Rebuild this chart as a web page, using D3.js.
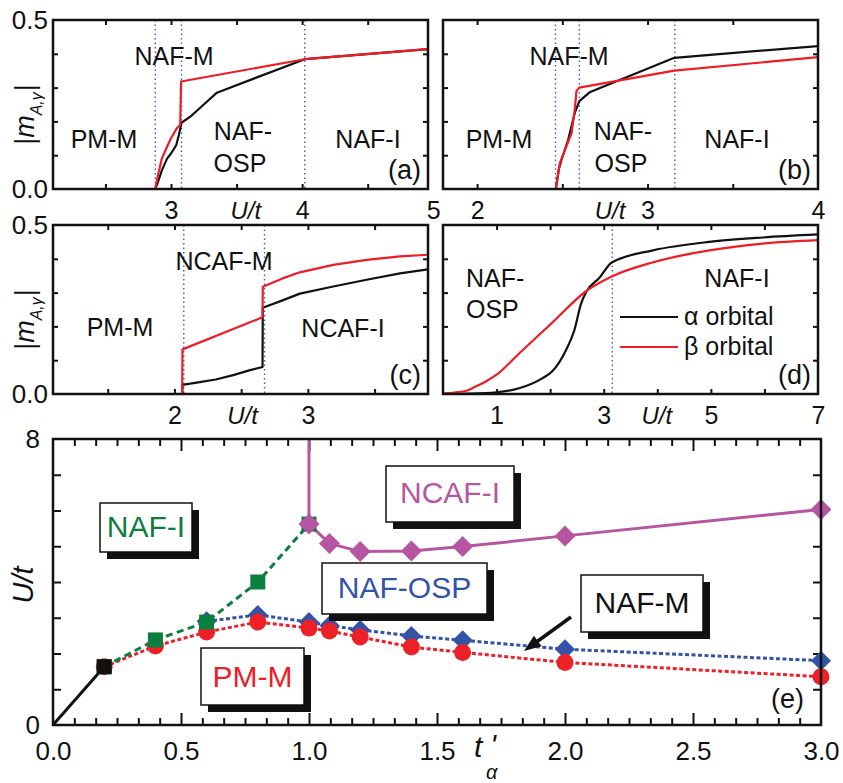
<!DOCTYPE html>
<html><head><meta charset="utf-8">
<script src="https://cdn.jsdelivr.net/npm/d3@7"></script>
<style>body{margin:0;background:#fff;} svg{display:block;}</style>
</head><body>
<svg id="chart" width="843" height="783"></svg>
<script>
// ---------------- DATA ----------------
// Panel (a): |m| vs U/t
const panelA_alpha = [[2.1,0],[2.88,0],[2.9,0.02],[2.93,0.055],[2.97,0.09],[3.0,0.105],[3.04,0.13],[3.06,0.16],[3.08,0.196],[3.15,0.215],[3.25,0.25],[3.35,0.285],[4.02,0.384],[4.96,0.414]];
const panelA_beta  = [[2.1,0],[2.88,0],[2.9,0.04],[2.93,0.09],[2.97,0.125],[3.0,0.15],[3.045,0.18],[3.07,0.19],[3.077,0.318],[4.02,0.384],[4.96,0.414]];
const panelA_bounds = [2.88, 3.08, 4.02];
// Panel (b)
const panelB_alpha = [[1.8,0],[2.462,0],[2.48,0.06],[2.495,0.086],[2.534,0.145],[2.573,0.225],[2.6,0.26],[2.66,0.286],[3.157,0.388],[4.0,0.423]];
const panelB_beta  = [[1.8,0],[2.462,0],[2.47,0.027],[2.485,0.076],[2.524,0.126],[2.554,0.165],[2.573,0.235],[2.583,0.29],[2.6,0.3],[3.157,0.35],[4.0,0.39]];
const panelB_bounds = [2.46, 2.6, 3.16];
// Panel (c)
const panelC_alpha = [[1.09,0],[2.058,0],[2.06,0.027],[2.19,0.035],[2.31,0.043],[2.44,0.056],[2.56,0.07],[2.66,0.08],[2.662,0.255],[2.81,0.277],[2.94,0.297],[3.19,0.318],[3.44,0.338],[3.69,0.357],[3.9,0.369]];
const panelC_beta  = [[1.09,0],[2.058,0],[2.06,0.132],[2.66,0.227],[2.662,0.317],[2.81,0.342],[2.94,0.36],[3.19,0.382],[3.44,0.397],[3.69,0.407],[3.9,0.412]];
const panelC_bounds = [2.07, 2.675];
// Panel (d)
const panelD_alpha = [[0,0],[0.5,0.001],[1.0,0.005],[1.42,0.017],[1.86,0.047],[2.04,0.067],[2.29,0.128],[2.45,0.188],[2.58,0.269],[2.67,0.301],[2.92,0.344],[3.15,0.389],[3.92,0.425],[4.97,0.45],[5.97,0.463],[7,0.472]];
const panelD_beta  = [[0,0.002],[0.42,0.009],[0.61,0.022],[0.8,0.037],[1.0,0.057],[1.42,0.12],[2.04,0.211],[2.67,0.304],[3.17,0.349],[3.91,0.389],[4.97,0.425],[5.97,0.445],[7,0.455]];
const panelD_bounds = [3.16];

// Panel (e): phase diagram U/t vs t_alpha'
const eBlackT = [0, 0.2];
const eBlackU = [0, 1.63];
const eGreenT = [0.2, 0.4, 0.6, 0.8, 1.0];
const eGreenU = [1.63, 2.38, 2.88, 4.0, 5.62];
const eRedT = [0.2, 0.4, 0.6, 0.8, 1.0, 1.08, 1.2, 1.4, 1.6, 2.0, 3.0];
const eRedU = [1.63, 2.21, 2.6, 2.88, 2.71, 2.63, 2.46, 2.18, 2.03, 1.75, 1.35];
const eBlueT = [0.6, 0.8, 1.0, 1.08, 1.2, 1.4, 1.6, 2.0, 3.0];
const eBlueU = [2.9, 3.08, 2.88, 2.78, 2.66, 2.49, 2.37, 2.12, 1.8];
const eMagT = [1.0, 1.08, 1.2, 1.4, 1.6, 2.0, 3.0];
const eMagU = [5.62, 5.08, 4.85, 4.87, 4.99, 5.29, 6.03];

// ---------------- DRAWING ----------------
const FONT = "'Liberation Sans', Arial, Helvetica, sans-serif";
const RED = "#ee1d25", BLK = "#111111", DOT = "#3a5bc8";
const GREEN = "#0b7f3f", BLUE = "#3353a6", MAG = "#b656a2", RED2 = "#ec2027";
const svg = d3.select("#chart").attr("font-family", FONT);
svg.append("rect").attr("width", 843).attr("height", 783).attr("fill", "#fff");

function styleAxis(g, fs) {
  g.attr("font-family", FONT).attr("font-size", fs);
  g.select(".domain").remove();
  g.selectAll(".tick line").attr("stroke", BLK).attr("stroke-width", 2);
  g.selectAll(".tick text").attr("fill", BLK);
}

const panels = [
  {id:"a", x0:53, x1:428, y0:20, y1:189, xd:[2.1,4.96], alpha:panelA_alpha, beta:panelA_beta, bounds:panelA_bounds,
   xticks:[2.5,3,3.5,4,4.5], xlabels:[3,4,5], ulab:3.57, ylabels:true,
   texts:[["PM-M",104,148,"middle"],["NAF-M",174,65,"middle"],["NAF-",243,140,"middle"],["OSP",240,172,"middle"],["NAF-I",368,148,"middle"]], plab:["(a)",421,179]},
  {id:"b", x0:443, x1:818, y0:20, y1:189, xd:[1.8,4.0], alpha:panelB_alpha, beta:panelB_beta, bounds:panelB_bounds,
   xticks:[2,2.5,3,3.5], xlabels:[2,3,4], ulab:2.78, ylabels:false,
   texts:[["PM-M",499,148,"middle"],["NAF-M",569,65,"middle"],["NAF-",623,140,"middle"],["OSP",621,172,"middle"],["NAF-I",737,148,"middle"]], plab:["(b)",811,179]},
  {id:"c", x0:53, x1:428, y0:225, y1:394, xd:[1.09,3.9], alpha:panelC_alpha, beta:panelC_beta, bounds:panelC_bounds,
   xticks:[1.5,2,2.5,3,3.5], xlabels:[2,3], ulab:2.51, ylabels:true,
   texts:[["PM-M",120,336,"middle"],["NCAF-M",224,270,"middle"],["NCAF-I",343,337,"middle"]], plab:["(c)",421,384]},
  {id:"d", x0:443, x1:818, y0:225, y1:394, xd:[0,7], alpha:panelD_alpha, beta:panelD_beta, bounds:panelD_bounds,
   xticks:[1,2,3,4,5,6], xlabels:[1,3,5,7], ulab:3.99, ylabels:false,
   texts:[["NAF-",466,287,"start"],["OSP",466,318,"start"],["NAF-I",737,287,"middle"]], plab:["(d)",811,384]}
];

panels.forEach(p => {
  const g = svg.append("g");
  const x = d3.scaleLinear().domain(p.xd).range([p.x0, p.x1]);
  const y = d3.scaleLinear().domain([0, 0.5]).range([p.y1, p.y0]);
  const clipId = "clip" + p.id;
  g.append("clipPath").attr("id", clipId).append("rect")
    .attr("x", p.x0).attr("y", p.y0 - 2).attr("width", p.x1 - p.x0).attr("height", p.y1 - p.y0 + 2);
  // boundaries
  p.bounds.forEach(b => {
    g.append("line").attr("x1", x(b)).attr("x2", x(b)).attr("y1", p.y0).attr("y2", p.y1)
      .attr("stroke", DOT).attr("stroke-width", 1.4).attr("stroke-dasharray", "1.5,3");
  });
  const line = d3.line().x(d => x(d[0])).y(d => y(d[1]))
    .curve(p.id === "d" ? d3.curveMonotoneX : d3.curveLinear);
  const cg = g.append("g").attr("clip-path", `url(#${clipId})`);
  cg.append("path").datum(p.alpha).attr("d", line).attr("fill", "none").attr("stroke", BLK).attr("stroke-width", 2.2).attr("stroke-linejoin", "round");
  cg.append("path").datum(p.beta).attr("d", line).attr("fill", "none").attr("stroke", RED).attr("stroke-width", 2.2).attr("stroke-linejoin", "round");

  // ticks (inward on all sides)
  const yt = d3.range(0.1, 0.45, 0.1);
  g.append("g").attr("transform", `translate(0,${p.y1})`)
    .call(d3.axisBottom(x).tickValues(p.xticks).tickSize(-5).tickFormat(""))
    .call(s => styleAxis(s, 25));
  g.append("g").attr("transform", `translate(0,${p.y0})`)
    .call(d3.axisTop(x).tickValues(p.xticks).tickSize(-5).tickFormat(""))
    .call(s => styleAxis(s, 25));
  g.append("g").attr("transform", `translate(${p.x0},0)`)
    .call(d3.axisLeft(y).tickValues(yt).tickSize(-5).tickFormat(""))
    .call(s => styleAxis(s, 25));
  g.append("g").attr("transform", `translate(${p.x1},0)`)
    .call(d3.axisRight(y).tickValues(yt).tickSize(-5).tickFormat(""))
    .call(s => styleAxis(s, 25));
  // tick labels
  g.append("g").attr("transform", `translate(0,${p.y1})`)
    .call(d3.axisBottom(x).tickValues(p.xlabels).tickSize(0).tickPadding(12).tickFormat(d3.format("d")))
    .call(s => styleAxis(s, 25));
  if (p.ylabels) {
    g.append("g").attr("transform", `translate(${p.x0},0)`)
      .call(d3.axisLeft(y).tickValues([0, 0.5]).tickSize(0).tickPadding(5).tickFormat(d3.format(".1f")))
      .call(s => styleAxis(s, 26));
  }
  // U/t axis title
  g.append("text").attr("x", x(p.ulab)).attr("y", p.y1 + 30).attr("text-anchor", "middle")
    .attr("font-size", 24).attr("font-style", "italic").attr("fill", BLK).text("U/t");
  // frame
  g.append("rect").attr("x", p.x0).attr("y", p.y0).attr("width", p.x1 - p.x0).attr("height", p.y1 - p.y0)
    .attr("fill", "none").attr("stroke", BLK).attr("stroke-width", 2.5);
  // phase labels
  p.texts.forEach(t => {
    g.append("text").attr("x", t[1]).attr("y", t[2]).attr("text-anchor", t[3])
      .attr("font-size", 25).attr("fill", BLK).text(t[0]);
  });
  g.append("text").attr("x", p.plab[1]).attr("y", p.plab[2]).attr("text-anchor", "end")
    .attr("font-size", 27).attr("fill", BLK).text(p.plab[0]);
  // y-axis title |m_A,gamma|
  if (p.ylabels) {
    const cy = (p.y0 + p.y1) / 2 + 10;
    const tt = g.append("text").attr("transform", `translate(34,${cy}) rotate(-90)`)
      .attr("text-anchor", "middle").attr("font-size", 27).attr("fill", BLK);
    tt.append("tspan").text("|");
    tt.append("tspan").attr("font-style", "italic").text("m");
    tt.append("tspan").attr("font-style", "italic").attr("font-size", 16).attr("dy", 8).text("A,γ");
    tt.append("tspan").attr("dy", -8).attr("dx", 1).text("|");
  }
  // legend in (d)
  if (p.id === "d") {
    [["α orbital", BLK, 317], ["β orbital", RED, 347]].forEach(l => {
      g.append("line").attr("x1", 620).attr("x2", 678).attr("y1", l[2]).attr("y2", l[2])
        .attr("stroke", l[1]).attr("stroke-width", 2.2);
      g.append("text").attr("x", 684).attr("y", l[2] + 8).attr("font-size", 25).attr("fill", BLK).text(l[0]);
    });
  }
});

// ---------------- Panel (e) ----------------
const ex0 = 53, ex1 = 821, ey0 = 439, ey1 = 725;
const ex = d3.scaleLinear().domain([0, 3]).range([ex0, ex1]);
const ey = d3.scaleLinear().domain([0, 8]).range([ey1, ey0]);
const ge = svg.append("g");

const minorT = d3.range(0, 37).map(i => i / 12).filter(v => v > 0.001 && v < 2.999 && Math.abs(v * 2 - Math.round(v * 2)) > 0.01);
const majorT = [0.5, 1.0, 1.5, 2.0, 2.5];
const yTicksE = d3.range(1, 8);
ge.append("g").attr("transform", `translate(0,${ey1})`).call(d3.axisBottom(ex).tickValues(minorT).tickSize(-7).tickFormat("")).call(s => styleAxis(s, 26));
ge.append("g").attr("transform", `translate(0,${ey1})`).call(d3.axisBottom(ex).tickValues(majorT).tickSize(-12).tickFormat("")).call(s => styleAxis(s, 26));
ge.append("g").attr("transform", `translate(0,${ey0})`).call(d3.axisTop(ex).tickValues(minorT).tickSize(-7).tickFormat("")).call(s => styleAxis(s, 26));
ge.append("g").attr("transform", `translate(0,${ey0})`).call(d3.axisTop(ex).tickValues(majorT).tickSize(-12).tickFormat("")).call(s => styleAxis(s, 26));
ge.append("g").attr("transform", `translate(${ex0},0)`).call(d3.axisLeft(ey).tickValues(yTicksE).tickSize(-8).tickFormat("")).call(s => styleAxis(s, 26));
ge.append("g").attr("transform", `translate(${ex1},0)`).call(d3.axisRight(ey).tickValues(yTicksE).tickSize(-8).tickFormat("")).call(s => styleAxis(s, 26));
ge.append("g").attr("transform", `translate(0,${ey1})`)
  .call(d3.axisBottom(ex).tickValues([0, 0.5, 1, 1.5, 2, 2.5, 3]).tickSize(0).tickPadding(17).tickFormat(d3.format(".1f")))
  .call(s => styleAxis(s, 26));
ge.append("g").attr("transform", `translate(${ex0},0)`)
  .call(d3.axisLeft(ey).tickValues([0, 8]).tickSize(0).tickPadding(13).tickFormat(d3.format("d")))
  .call(s => styleAxis(s, 26));

// axis titles
ge.append("text").attr("transform", `translate(33,585) rotate(-90)`).attr("text-anchor", "middle")
  .attr("font-size", 29).attr("font-style", "italic").attr("fill", BLK).text("U/t");
const xt = ge.append("text").attr("x", 474).attr("y", 757).attr("font-size", 30).attr("font-style", "italic").attr("fill", BLK);
xt.append("tspan").text("t");
xt.append("tspan").attr("dx", 8).attr("dy", -2).text("'");
ge.append("text").attr("x", 486).attr("y", 779).attr("font-size", 20).attr("font-style", "italic").attr("fill", BLK).text("α");

// lines
const zip = (T, U) => T.map((t, i) => ({t: t, U: U[i]}));
const eLine = d3.line().x(d => ex(d.t)).y(d => ey(d.U));
const blackPts = zip(eBlackT, eBlackU), greenPts = zip(eGreenT, eGreenU), redPts = zip(eRedT, eRedU),
      bluePts = zip(eBlueT, eBlueU), magPts = zip(eMagT, eMagU);
ge.append("path").datum(bluePts).attr("d", eLine).attr("fill", "none").attr("stroke", BLUE).attr("stroke-width", 3).attr("stroke-dasharray", "4,2.5");
ge.append("path").datum(redPts).attr("d", eLine).attr("fill", "none").attr("stroke", RED2).attr("stroke-width", 3).attr("stroke-dasharray", "4,2.5");
ge.append("path").datum(greenPts).attr("d", eLine).attr("fill", "none").attr("stroke", GREEN).attr("stroke-width", 3).attr("stroke-dasharray", "7,4.5");
ge.append("path").datum([{t: eMagT[0], U: ey.domain()[1]}].concat(magPts)).attr("d", eLine).attr("fill", "none").attr("stroke", MAG).attr("stroke-width", 3);
ge.append("path").datum(blackPts).attr("d", eLine).attr("fill", "none").attr("stroke", BLK).attr("stroke-width", 3);

// markers
function diamondPath(r) { return `M0,${-r}L${r},0L0,${r}L${-r},0Z`; }
ge.selectAll(".bd").data(bluePts).join("path").attr("d", diamondPath(10))
  .attr("transform", d => `translate(${ex(d.t)},${ey(d.U)})`).attr("fill", BLUE);
ge.selectAll(".rc").data(redPts).join("circle").attr("cx", d => ex(d.t)).attr("cy", d => ey(d.U)).attr("r", 8.5).attr("fill", RED2);
ge.selectAll(".gs").data(greenPts).join("rect").attr("x", d => ex(d.t) - 7.5).attr("y", d => ey(d.U) - 7.5)
  .attr("width", 15).attr("height", 15).attr("fill", GREEN);
ge.selectAll(".md").data(magPts).join("path").attr("d", diamondPath(10.5))
  .attr("transform", d => `translate(${ex(d.t)},${ey(d.U)})`).attr("fill", MAG);
ge.selectAll(".bs").data(blackPts.slice(1)).join("rect").attr("x", d => ex(d.t) - 7.5).attr("y", d => ey(d.U) - 7.5)
  .attr("width", 15).attr("height", 15).attr("fill", BLK);

// frame
ge.append("rect").attr("x", ex0).attr("y", ey0).attr("width", ex1 - ex0).attr("height", ey1 - ey0)
  .attr("fill", "none").attr("stroke", BLK).attr("stroke-width", 2.5);

// labelled boxes
const boxes = [
  ["NAF-I", GREEN, 100, 503, 92, 49, 537],
  ["NCAF-I", MAG, 386, 466, 128, 56, 503],
  ["NAF-OSP", BLUE, 322, 563, 165, 51, 598],
  ["PM-M", RED2, 201, 648, 103, 57, 687],
  ["NAF-M", BLK, 581, 575, 122, 57, 613]
];
boxes.forEach(b => {
  ge.append("rect").attr("x", b[2] + 7).attr("y", b[3] + 7).attr("width", b[4]).attr("height", b[5]).attr("fill", BLK);
  ge.append("rect").attr("x", b[2]).attr("y", b[3]).attr("width", b[4]).attr("height", b[5])
    .attr("fill", "#fff").attr("stroke", BLK).attr("stroke-width", 1.5);
  ge.append("text").attr("x", b[2] + b[4] / 2).attr("y", b[6]).attr("text-anchor", "middle")
    .attr("font-size", 30).attr("fill", b[1]).text(b[0]);
});

// arrow
(function () {
  const sx = 571, sy = 617, tx = 524, ty = 651;
  const dx = tx - sx, dy = ty - sy, L = Math.hypot(dx, dy), ux = dx / L, uy = dy / L;
  const hl = 17, hw = 6.5;
  const bx = tx - ux * hl, by = ty - uy * hl;
  ge.append("line").attr("x1", sx).attr("y1", sy).attr("x2", bx + ux * 2).attr("y2", by + uy * 2)
    .attr("stroke", BLK).attr("stroke-width", 3.5);
  ge.append("path").attr("d", `M${tx},${ty}L${bx - uy * hw},${by + ux * hw}L${bx + uy * hw},${by - ux * hw}Z`).attr("fill", BLK);
})();

// panel label (e)
ge.append("text").attr("x", 804).attr("y", 708).attr("text-anchor", "end").attr("font-size", 27).attr("fill", BLK).text("(e)");
</script>
</body></html>
